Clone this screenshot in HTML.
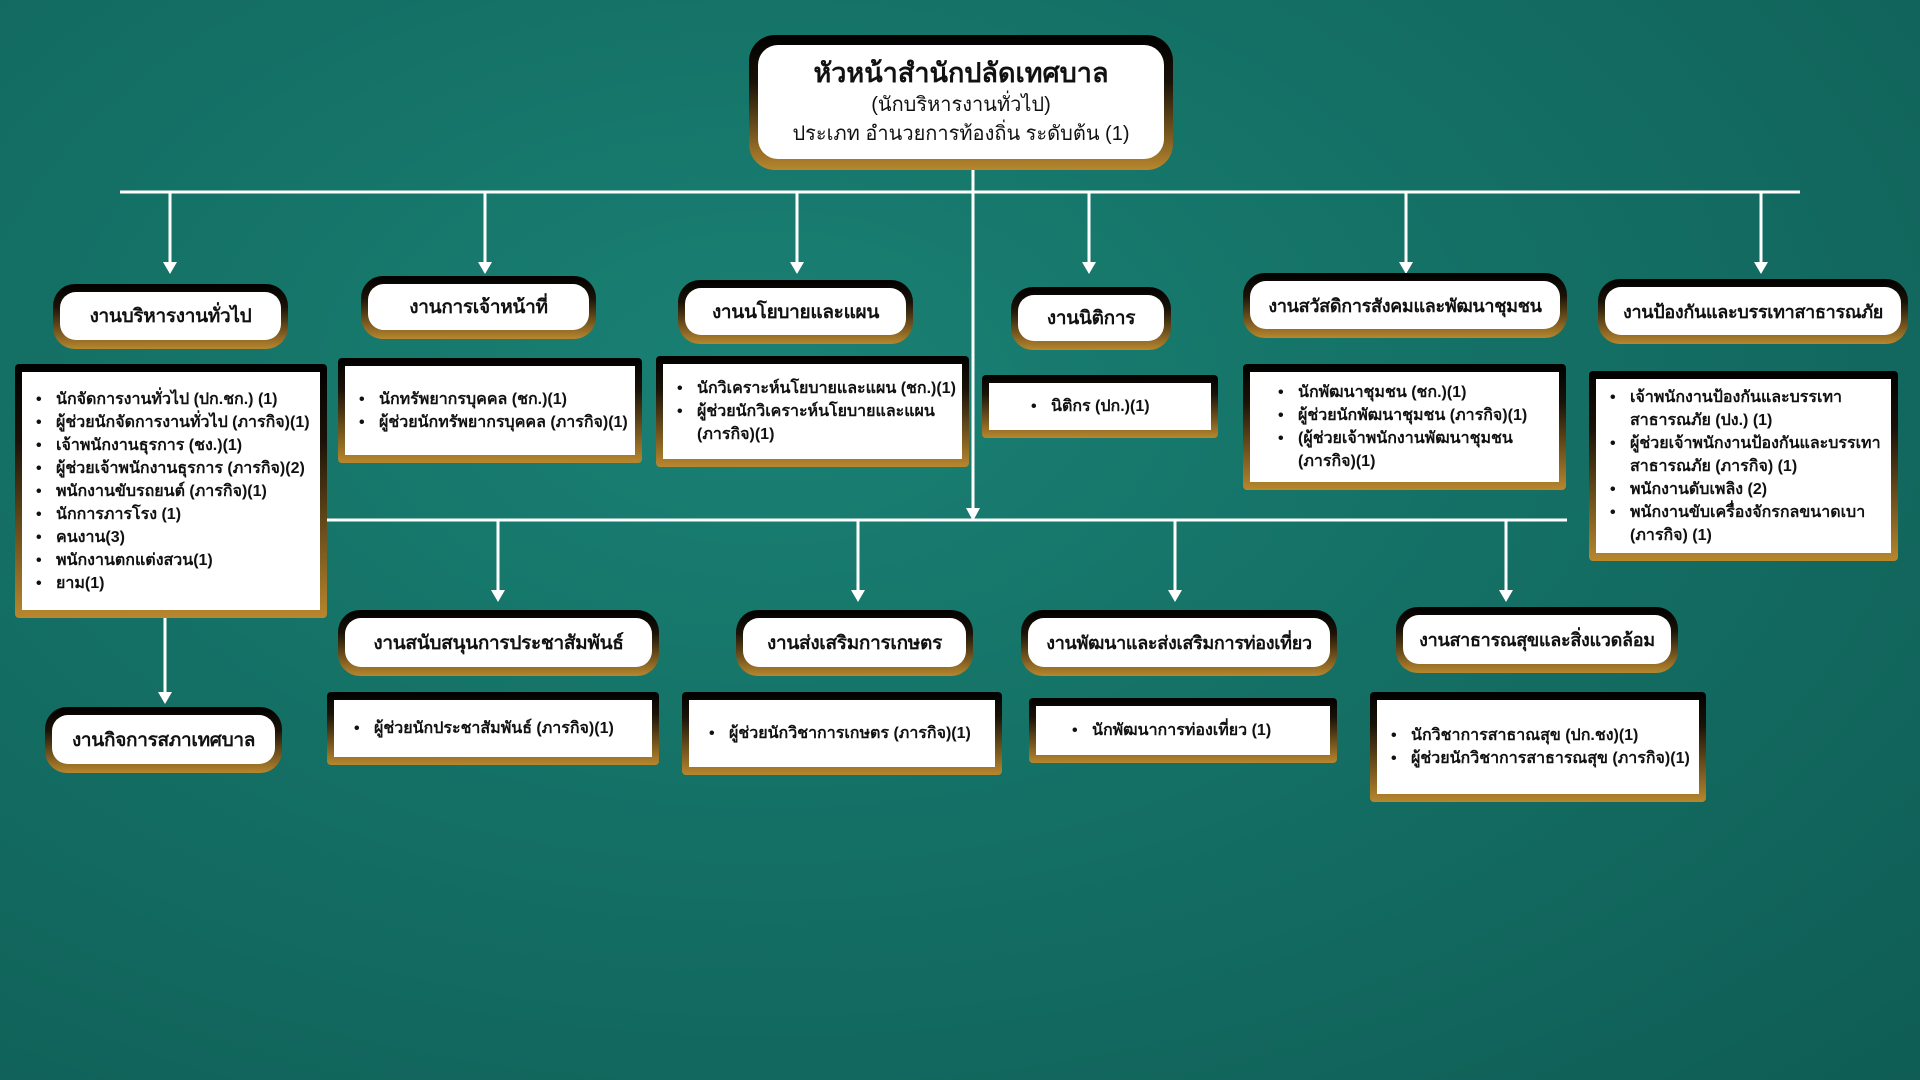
<!DOCTYPE html>
<html><head><meta charset="utf-8"><style>
*{margin:0;padding:0;box-sizing:border-box}
body{width:1920px;height:1080px;overflow:hidden;position:relative;font-family:"Liberation Sans","Noto Sans CJK SC",sans-serif;
background:radial-gradient(ellipse at 40% 35%,#1a8174 0%,#147065 45%,#0f5d55 100%);}
.b{position:absolute;background:linear-gradient(#000 0%,#1a1208 35%,#b8872e 100%);padding:8px 7px 9px 7px;border-radius:22px}
.b>div{background:#fff;width:100%;height:100%;border-radius:16px;display:flex;align-items:center;justify-content:center;font-weight:bold;font-size:19px;letter-spacing:-0.3px;color:#111;text-align:center;white-space:nowrap}
.c{position:absolute;background:linear-gradient(#000 0%,#1a1208 30%,#b8872e 100%);padding:8px 7px 8px 7px;border-radius:4px}
.c>div{background:#fff;width:100%;height:100%;display:flex;align-items:center;font-weight:bold;font-size:16px;color:#111;}
ul{list-style:none;padding-left:14px;line-height:23px;white-space:nowrap}
li{position:relative;padding-left:20px}
li:before{content:"•";position:absolute;left:0}
.in{display:block}
.s>div{font-size:18px}
</style></head><body>
<svg width="1920" height="1080" style="position:absolute;left:0;top:0">
<g stroke="#fff" stroke-width="3" fill="none">
<line x1="120" y1="192" x2="1800" y2="192"/>
<line x1="973" y1="169" x2="973" y2="510"/>
<line x1="170" y1="192" x2="170" y2="264"/>
<line x1="485" y1="192" x2="485" y2="264"/>
<line x1="797" y1="192" x2="797" y2="264"/>
<line x1="1089" y1="192" x2="1089" y2="264"/>
<line x1="1406" y1="192" x2="1406" y2="264"/>
<line x1="1761" y1="192" x2="1761" y2="264"/>
<line x1="327" y1="520" x2="1567" y2="520"/>
<line x1="498" y1="520" x2="498" y2="592"/>
<line x1="858" y1="520" x2="858" y2="592"/>
<line x1="1175" y1="520" x2="1175" y2="592"/>
<line x1="1506" y1="520" x2="1506" y2="592"/>
<line x1="165" y1="618" x2="165" y2="694"/>
</g>
<g fill="#fff">
<polygon points="163,262 177,262 170,274"/>
<polygon points="478,262 492,262 485,274"/>
<polygon points="790,262 804,262 797,274"/>
<polygon points="1082,262 1096,262 1089,274"/>
<polygon points="1399,262 1413,262 1406,274"/>
<polygon points="1754,262 1768,262 1761,274"/>
<polygon points="966,508 980,508 973,521"/>
<polygon points="491,590 505,590 498,602"/>
<polygon points="851,590 865,590 858,602"/>
<polygon points="1168,590 1182,590 1175,602"/>
<polygon points="1499,590 1513,590 1506,602"/>
<polygon points="158,692 172,692 165,704"/>
</g>
</svg>

<div class="b" style="left:749px;top:35px;width:424px;height:135px;border-radius:26px;padding:10px 9px 11px 9px"><div style="flex-direction:column;font-weight:normal;font-size:20px;line-height:29px;border-radius:20px;letter-spacing:0">
<span style="font-weight:bold;font-size:27px;line-height:36px">หัวหน้าสำนักปลัดเทศบาล</span>
<span>(นักบริหารงานทั่วไป)</span><span>ประเภท อำนวยการท้องถิ่น ระดับต้น (1)</span></div></div>

<div class="b" style="left:53px;top:284px;width:235px;height:65px"><div>งานบริหารงานทั่วไป</div></div>
<div class="b" style="left:361px;top:276px;width:235px;height:63px"><div>งานการเจ้าหน้าที่</div></div>
<div class="b" style="left:678px;top:280px;width:235px;height:64px"><div>งานนโยบายและแผน</div></div>
<div class="b" style="left:1011px;top:287px;width:160px;height:63px"><div>งานนิติการ</div></div>
<div class="b s" style="left:1243px;top:273px;width:324px;height:65px"><div>งานสวัสดิการสังคมและพัฒนาชุมชน</div></div>
<div class="b s" style="left:1598px;top:279px;width:310px;height:65px"><div>งานป้องกันและบรรเทาสาธารณภัย</div></div>

<div class="c" style="left:15px;top:364px;width:312px;height:254px"><div><ul>
<li>นักจัดการงานทั่วไป (ปก.ชก.) (1)</li><li>ผู้ช่วยนักจัดการงานทั่วไป (ภารกิจ)(1)</li><li>เจ้าพนักงานธุรการ (ชง.)(1)</li><li>ผู้ช่วยเจ้าพนักงานธุรการ (ภารกิจ)(2)</li><li>พนักงานขับรถยนต์ (ภารกิจ)(1)</li><li>นักการภารโรง (1)</li><li>คนงาน(3)</li><li>พนักงานตกแต่งสวน(1)</li><li>ยาม(1)</li></ul></div></div>
<div class="c" style="left:338px;top:358px;width:304px;height:105px"><div><ul><li>นักทรัพยากรบุคคล (ชก.)(1)</li><li>ผู้ช่วยนักทรัพยากรบุคคล (ภารกิจ)(1)</li></ul></div></div>
<div class="c" style="left:656px;top:356px;width:313px;height:111px"><div><ul><li>นักวิเคราะห์นโยบายและแผน (ชก.)(1)</li><li>ผู้ช่วยนักวิเคราะห์นโยบายและแผน<span class="in">(ภารกิจ)(1)</span></li></ul></div></div>
<div class="c" style="left:982px;top:375px;width:236px;height:63px"><div><ul style="padding-left:42px"><li>นิติกร (ปก.)(1)</li></ul></div></div>
<div class="c" style="left:1243px;top:364px;width:323px;height:126px"><div><ul style="padding-left:28px"><li>นักพัฒนาชุมชน (ชก.)(1)</li><li>ผู้ช่วยนักพัฒนาชุมชน (ภารกิจ)(1)</li><li>(ผู้ช่วยเจ้าพนักงานพัฒนาชุมชน<span class="in">(ภารกิจ)(1)</span></li></ul></div></div>
<div class="c" style="left:1589px;top:371px;width:309px;height:190px"><div><ul><li>เจ้าพนักงานป้องกันและบรรเทา<span class="in">สาธารณภัย (ปง.) (1)</span></li><li>ผู้ช่วยเจ้าพนักงานป้องกันและบรรเทา<span class="in">สาธารณภัย (ภารกิจ) (1)</span></li><li>พนักงานดับเพลิง (2)</li><li>พนักงานขับเครื่องจักรกลขนาดเบา<span class="in">(ภารกิจ) (1)</span></li></ul></div></div>

<div class="b" style="left:338px;top:610px;width:321px;height:66px"><div>งานสนับสนุนการประชาสัมพันธ์</div></div>
<div class="b" style="left:736px;top:610px;width:237px;height:66px"><div>งานส่งเสริมการเกษตร</div></div>
<div class="b s" style="left:1021px;top:610px;width:316px;height:66px"><div>งานพัฒนาและส่งเสริมการท่องเที่ยว</div></div>
<div class="b s" style="left:1396px;top:607px;width:282px;height:66px"><div>งานสาธารณสุขและสิ่งแวดล้อม</div></div>
<div class="b" style="left:45px;top:707px;width:237px;height:66px"><div>งานกิจการสภาเทศบาล</div></div>

<div class="c" style="left:327px;top:692px;width:332px;height:73px"><div><ul style="padding-left:20px"><li>ผู้ช่วยนักประชาสัมพันธ์ (ภารกิจ)(1)</li></ul></div></div>
<div class="c" style="left:682px;top:692px;width:320px;height:83px"><div><ul style="padding-left:20px"><li>ผู้ช่วยนักวิชาการเกษตร (ภารกิจ)(1)</li></ul></div></div>
<div class="c" style="left:1029px;top:698px;width:308px;height:65px"><div><ul style="padding-left:36px"><li>นักพัฒนาการท่องเที่ยว (1)</li></ul></div></div>
<div class="c" style="left:1370px;top:692px;width:336px;height:110px"><div><ul><li>นักวิชาการสาธาณสุข (ปก.ชง)(1)</li><li>ผู้ช่วยนักวิชาการสาธารณสุข (ภารกิจ)(1)</li></ul></div></div>
</body></html>
